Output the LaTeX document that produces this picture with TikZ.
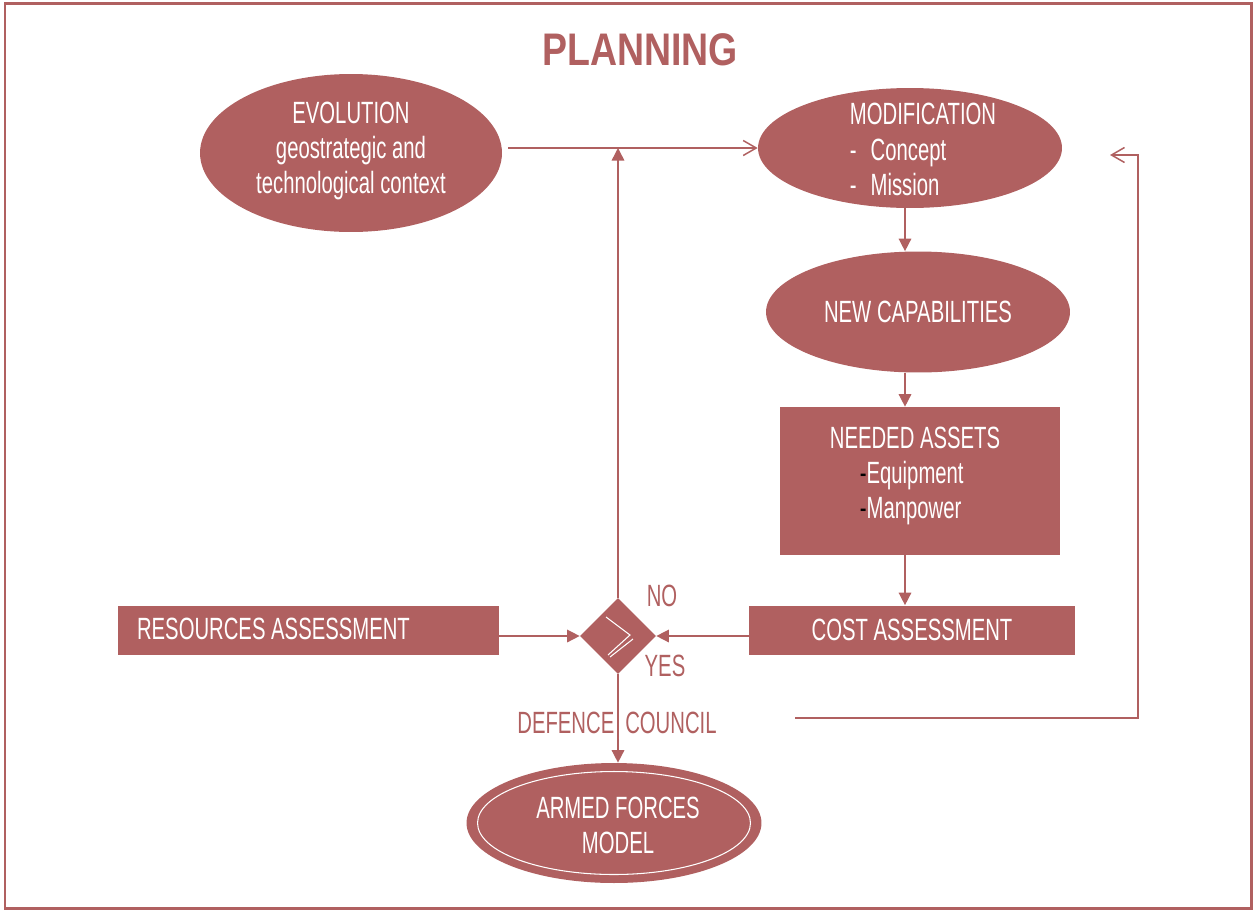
\documentclass[tikz,border=0pt]{standalone}
\usepackage{fontspec}
\setmainfont{Liberation Sans}[FakeStretch=0.66]
\newfontfamily\headfont{Liberation Sans}[FakeStretch=0.82]
\usepackage{xcolor}
\usepackage{tikz}
\usetikzlibrary{arrows.meta}
\usetikzlibrary{shapes}
\usetikzlibrary{calc}
\definecolor{rose}{RGB}{176,96,96}

\begin{document}
\begin{tikzpicture}[x=0.02cm,y=-0.02cm]
  \useasboundingbox (0,0) rectangle (1254,910);
  \draw[rose,line width=1.7pt] (5,3.5) rectangle (1251,908.5);
  \node[text=rose,font=\headfont\bfseries\fontsize{26}{30}\selectfont] (title) at (640,50) {PLANNING};
  \begin{scope}[every node/.style={ellipse,fill=rose,inner sep=0pt}]
    \node[minimum width=6.04cm,minimum height=3.16cm] (evo) at (351,153) {};
    \node[minimum width=6.08cm,minimum height=2.4cm] (modif) at (910,148) {};
    \node[minimum width=6.08cm,minimum height=2.42cm] (newcap) at (918,312) {};
    \node[minimum width=5.9cm,minimum height=2.4cm] (model) at (614,823) {};
  \end{scope}
  \draw[white,line width=0.6pt] (model.center) ellipse [x radius=2.73cm,y radius=1.03cm];
  \begin{scope}[every node/.style={text=white,font=\fontsize{17.5}{20}\selectfont}]
    \node[align=center] (evo-t) at ([yshift=0.04cm]evo.center) {EVOLUTION\\geostrategic and\\technological context};
    \node[align=left] (modif-t) at ([xshift=0.26cm,yshift=-0.03cm]modif.center) {MODIFICATION\\-\hspace{0.28cm}Concept\\-\hspace{0.28cm}Mission};
    \node (newcap-t) at (newcap) {NEW CAPABILITIES};
    \node[align=center] (model-t) at ([xshift=0.08cm,yshift=-0.04cm]model.center) {ARMED FORCES\\MODEL};
  \end{scope}
  \begin{scope}[every node/.style={rectangle,fill=rose,text=white,inner sep=0pt,font=\fontsize{17.5}{20}\selectfont}]
    \node[minimum width=5.6cm,minimum height=2.96cm,align=left] (assets) at (920,481) {};
    \node[minimum width=6.52cm,minimum height=0.98cm] (cost) at (912,630) {COST ASSESSMENT};
    \node[minimum width=7.62cm,minimum height=0.98cm] (res) at (308.5,630) {};
    \node[diamond,aspect=1,minimum width=1.52cm,minimum height=1.52cm] (dec) at (618,636) {};
  \end{scope}
  \begin{scope}[every node/.style={text=white,font=\fontsize{17.5}{20}\selectfont}]
    \node[align=left] (assets-t) at ([xshift=-0.1cm,yshift=0.1cm]assets.center)
      {NEEDED ASSETS\\\hspace*{0.6cm}{\color{black}-}Equipment\\\hspace*{0.6cm}{\color{black}-}Manpower};
    \node[anchor=west,inner sep=0pt] (res-t) at ([xshift=0.38cm,yshift=0.02cm]res.west) {RESOURCES ASSESSMENT};
  \end{scope}
  \begin{scope}[shift={(dec.center)},white,line width=0.6pt]
    \draw (-12,-19) -- (12,-1) -- (-10,19);
    \draw (-8,21) -- (15,3);
  \end{scope}
  \begin{scope}[every node/.style={text=rose,font=\fontsize{17.5}{20}\selectfont}]
    \node (no) at (662,596) {NO};
    \node (yes) at (665,666) {YES};
    \node (council) at (617,723) {DEFENCE\hspace{0.22cm}COUNCIL};
  \end{scope}
  \coordinate (col) at (905,0);
  \coordinate (evo-out) at (508,148);
  \coordinate (loop-in) at (795,718);
  \coordinate (loop-out) at (1110,155);
  \begin{scope}[every edge/.style={draw=rose,line width=0.85pt,-{Triangle[length=0.25cm,width=0.25cm]}}]
    \path (col |- modif.south) edge (col |- newcap.north);
    \path (col |- newcap.south) edge (col |- assets.north);
    \path (col |- assets.south) edge (col |- cost.north);
    \path (cost.west |- dec.east) edge (dec.east);
    \path (res.east |- dec.west) edge (dec.west);
    \path (dec.south) edge (dec.south |- model.north);
    \path (dec.north) edge (dec.north |- evo-out);
  \end{scope}
  \draw[rose,line width=0.85pt,-{Straight Barb[length=0.26cm,width=0.3cm]}] (evo-out) -- (modif.west);
  \draw[rose,line width=0.85pt,-{Straight Barb[length=0.26cm,width=0.3cm]}] (loop-in) -| ([xshift=0.56cm]loop-out) -- (loop-out);
\end{tikzpicture}
\end{document}
